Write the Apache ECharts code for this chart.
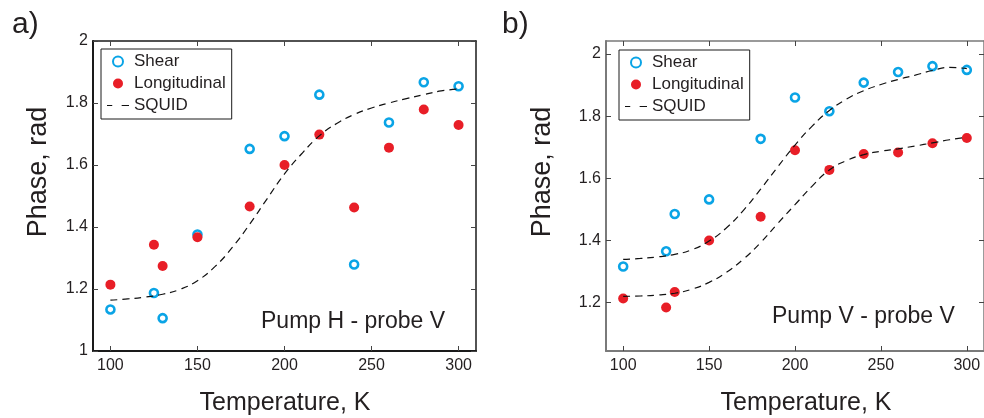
<!DOCTYPE html>
<html>
<head>
<meta charset="utf-8">
<script src="https://cdn.jsdelivr.net/npm/echarts@6/dist/echarts.min.js"></script>
<style>
html,body{margin:0;padding:0;background:#fff;}
#c{width:984px;height:418px;}
</style>
</head>
<body>
<div id="c"></div>
<script>
// ---- data ----
const temps = [100, 125, 130, 150, 180, 200, 220, 240, 260, 280, 300];
const shearA = [1.134, 1.187, 1.106, 1.376, 1.652, 1.693, 1.827, 1.279, 1.737, 1.867, 1.854];
const longA  = [1.214, 1.343, 1.274, 1.367, 1.466, 1.600, 1.698, 1.463, 1.656, 1.779, 1.729];
const shearB = [1.316, 1.365, 1.485, 1.532, 1.727, 1.860, 1.816, 1.908, 1.942, 1.961, 1.949];
const longB  = [1.213, 1.184, 1.234, 1.400, 1.476, 1.690, 1.627, 1.678, 1.683, 1.713, 1.730];

const squidT = [100, 110, 120, 130, 140, 150, 160, 170, 180, 190, 200, 210, 220, 230, 240, 250, 260, 270, 280, 290, 300];
const squidA = [1.164, 1.168, 1.174, 1.183, 1.199, 1.227, 1.272, 1.334, 1.409, 1.491, 1.571, 1.637, 1.694, 1.734, 1.763, 1.784, 1.800, 1.814, 1.827, 1.839, 1.845];
const squidBUpper = [1.339, 1.342, 1.347, 1.355, 1.370, 1.398, 1.440, 1.497, 1.565, 1.637, 1.707, 1.768, 1.818, 1.855, 1.882, 1.902, 1.918, 1.932, 1.947, 1.957, 1.953];
const squidBLower = [1.220, 1.221, 1.224, 1.230, 1.243, 1.265, 1.297, 1.340, 1.393, 1.455, 1.515, 1.575, 1.627, 1.657, 1.676, 1.687, 1.695, 1.704, 1.714, 1.724, 1.732];

const xTicks = [100, 150, 200, 250, 300];
const yTicksA = [1, 1.2, 1.4, 1.6, 1.8, 2];
const yTicksB = [1.2, 1.4, 1.6, 1.8, 2];
const seriesNames = ['Shear', 'Longitudinal', 'SQUID'];
const panelLabels = ['a)', 'b)'];
const panelNotes = ['Pump H - probe V', 'Pump V - probe V'];
const xTitle = 'Temperature, K';
const yTitle = 'Phase, rad';

// ---- styling ----
const FONT = 'Liberation Sans, Arial, sans-serif';
const TXT = '#231f20';
const BLUE = '#0aa4e6';
const RED = '#e81e27';

const pairs = (xs, ys) => xs.map((x, i) => [x, ys[i]]);
const fmt = v => String(Math.round(v * 10) / 10);

function axesFor(gi, yMin, yMax, yTicks, frameColor) {
  const tickStyle = { show: true, inside: true, length: 5, lineStyle: { color: '#444', width: 1 } };
  const xs = [
    { type: 'value', gridIndex: gi, min: 90, max: 310, position: 'bottom',
      axisLine: { show: true, lineStyle: { color: frameColor, width: 2 } },
      axisTick: Object.assign({ customValues: xTicks }, tickStyle),
      axisLabel: { customValues: xTicks, margin: 7, fontFamily: FONT, fontSize: 16, color: TXT },
      splitLine: { show: false } },
    { type: 'value', gridIndex: gi, min: 90, max: 310, position: 'top',
      axisLine: { show: true, lineStyle: { color: frameColor, width: 1.5 } },
      axisTick: Object.assign({ customValues: xTicks }, tickStyle),
      axisLabel: { show: false }, splitLine: { show: false } }
  ];
  const ys = [
    { type: 'value', gridIndex: gi, min: yMin, max: yMax, position: 'left',
      axisLine: { show: true, lineStyle: { color: frameColor, width: 2 } },
      axisTick: Object.assign({ customValues: yTicks }, tickStyle),
      axisLabel: { customValues: yTicks, formatter: fmt, margin: 5, fontFamily: FONT, fontSize: 16, color: TXT },
      splitLine: { show: false } },
    { type: 'value', gridIndex: gi, min: yMin, max: yMax, position: 'right',
      axisLine: { show: true, lineStyle: { color: frameColor, width: 1.5 } },
      axisTick: Object.assign({ customValues: yTicks }, tickStyle),
      axisLabel: { show: false }, splitLine: { show: false } }
  ];
  return { xs, ys };
}

const A = axesFor(0, 1, 2, yTicksA, '#1a1a1a');
const B = axesFor(1, 1.044, 2.042, yTicksB, '#7a7a7a');

function scatter(name, xi, yi, data, filled) {
  return {
    type: 'scatter', name, xAxisIndex: xi, yAxisIndex: yi, data,
    symbol: 'circle', symbolSize: filled ? 10 : 8,
    itemStyle: filled ? { color: RED, opacity: 1 } : { color: 'rgba(0,0,0,0)', borderColor: BLUE, borderWidth: 2.6, opacity: 1 },
    emphasis: { disabled: true }
  };
}
function squid(xi, yi, data) {
  return {
    type: 'line', name: 'SQUID', xAxisIndex: xi, yAxisIndex: yi, data,
    showSymbol: false, symbol: 'none', smooth: 0.5,
    itemStyle: { color: '#111' },
    lineStyle: { color: '#111', width: 1.2, type: [7, 5] },
    emphasis: { disabled: true }
  };
}

function legendAt(left, top) {
  return {
    left, top, orient: 'vertical', selectedMode: false,
    data: [
      { name: 'Shear', icon: 'circle' },
      { name: 'Longitudinal', icon: 'circle' },
      { name: 'SQUID', icon: 'path://M0,0 H5 V1 H0 Z M14,0 H21 V1 H14 Z', itemStyle: { color: '#111', borderWidth: 0 } }
    ],
    backgroundColor: '#fff', borderColor: '#1a1a1a', borderWidth: 1, borderRadius: 0,
    padding: [4, 6, 5, 6], itemGap: 5, itemWidth: 22, itemHeight: 10, itemTextGap: 2,
    textStyle: { fontFamily: FONT, fontSize: 17, color: TXT, lineHeight: 17 },
    itemStyle: { borderWidth: 'auto' }
  };
}

function gText(text, x, y, size, rotate) {
  return {
    type: 'text', x, y, rotation: rotate ? Math.PI / 2 : 0, silent: true,
    style: { text, fontFamily: FONT, fontSize: size, fill: TXT, align: 'center', verticalAlign: 'middle' }
  };
}

const option = {
  animation: false,
  backgroundColor: '#fff',
  grid: [
    { left: 93, top: 41, width: 383, height: 310, containLabel: false },
    { left: 606, top: 41, width: 383, height: 310, containLabel: false }
  ],
  xAxis: [A.xs[0], A.xs[1], B.xs[0], B.xs[1]],
  yAxis: [A.ys[0], A.ys[1], B.ys[0], B.ys[1]],
  legend: [legendAt(101, 49), legendAt(619, 50)],
  title: [
    { text: panelLabels[0], left: 7, top: 5, textStyle: { fontFamily: FONT, fontSize: 30, fontWeight: 'normal', color: TXT } },
    { text: panelLabels[1], left: 497, top: 5, textStyle: { fontFamily: FONT, fontSize: 30, fontWeight: 'normal', color: TXT } },
    { text: panelNotes[0], left: 256, top: 305, textStyle: { fontFamily: FONT, fontSize: 23, fontWeight: 'normal', color: TXT } },
    { text: panelNotes[1], left: 767, top: 300, textStyle: { fontFamily: FONT, fontSize: 23, fontWeight: 'normal', color: TXT } }
  ],
  graphic: [
    gText(xTitle, 285, 403, 25, false),
    gText(xTitle, 806, 403, 25, false),
    gText(yTitle, 39, 172, 27, true),
    gText(yTitle, 543, 172, 27, true)
  ],
  series: [
    scatter(seriesNames[0], 0, 0, pairs(temps, shearA), false),
    scatter(seriesNames[1], 0, 0, pairs(temps, longA), true),
    squid(0, 0, pairs(squidT, squidA)),
    scatter(seriesNames[0], 2, 2, pairs(temps, shearB), false),
    scatter(seriesNames[1], 2, 2, pairs(temps, longB), true),
    squid(2, 2, pairs(squidT, squidBUpper)),
    squid(2, 2, pairs(squidT, squidBLower))
  ]
};

const chart = echarts.init(document.getElementById('c'), null, { renderer: 'canvas' });
chart.setOption(option);
</script>
</body>
</html>
